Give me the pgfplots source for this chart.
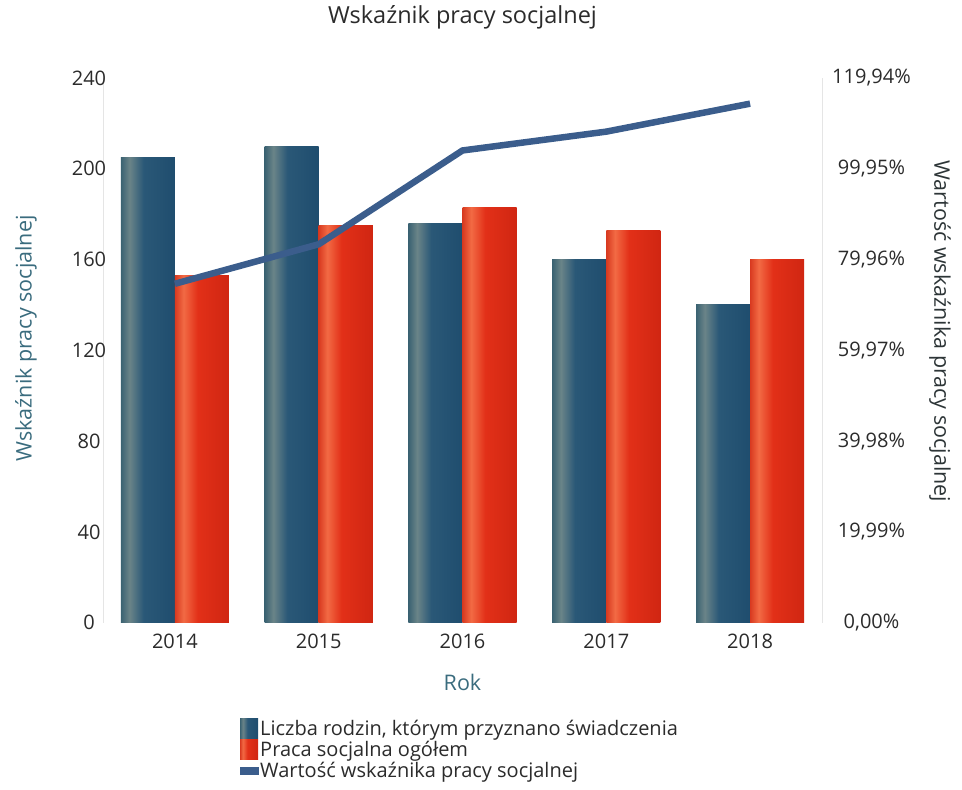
\documentclass[border=0pt]{standalone}
\usepackage{pgfplots}
\pgfplotsset{compat=1.18}
\usepackage{fontspec}
\setmainfont{Open Sans}
\usetikzlibrary{calc}
\definecolor{bA}{HTML}{3A6272}
\definecolor{bB}{HTML}{6A8488}
\definecolor{bC}{HTML}{2A5877}
\definecolor{bD}{HTML}{1F4D6E}
\definecolor{rA}{HTML}{D83A20}
\definecolor{rB}{HTML}{F26A44}
\definecolor{rC}{HTML}{E23018}
\definecolor{rD}{HTML}{D02612}
\definecolor{lineblue}{HTML}{3B5D8C}
\definecolor{labteal}{HTML}{3A6C7E}
\definecolor{ticktxt}{HTML}{2B2B2B}
\pgfdeclarehorizontalshading{bluebar}{100bp}{color(0bp)=(bA); color(25bp)=(bA); color(33bp)=(bB); color(46bp)=(bC); color(75bp)=(bD); color(100bp)=(bD)}
\pgfdeclarehorizontalshading{redbar}{100bp}{color(0bp)=(rA); color(25bp)=(rA); color(33bp)=(rB); color(46bp)=(rC); color(75bp)=(rD); color(100bp)=(rD)}
\pgfplotsset{
  bluebars/.style={ybar, bar shift=-0.188, draw=none, shade, shading=bluebar},
  redbars/.style={ybar, bar shift=0.188, draw=none, shade, shading=redbar},
}
\begin{document}
\begin{tikzpicture}
\begin{axis}[
  name=ax,
  scale only axis, width=719pt, height=544.7pt,
  xmin=-0.5, xmax=4.5, ymin=0, ymax=240,
  bar width=0.376,
  xtick={0,1,2,3,4}, xticklabels={2014,2015,2016,2017,2018},
  ytick={0,40,80,120,160,200,240}, yticklabels={0,40,80,120,160,200,240},
  axis y line*=left, axis x line*=bottom,
  x axis line style={draw=none},
  y axis line style={draw=black!10},
  major tick length=0pt, tick style={draw=none},
  tick label style={font=\fontsize{20}{24}\selectfont, text=ticktxt},
  yticklabel style={anchor=center, xshift=-14pt},
  xticklabel style={anchor=center, yshift=-19pt},
  title={Wskaźnik pracy socjalnej},
  title style={at={(axis description cs:0.5,1)}, anchor=center, yshift=55pt, font=\fontsize{23.5}{28}\selectfont, text=ticktxt},
  xlabel={Rok},
  xlabel style={at={(axis description cs:0.5,-0.110)}, anchor=center, font=\fontsize{21.5}{26}\selectfont, text=labteal},
  ylabel={Wskaźnik pracy socjalnej},
  ylabel style={at={(axis description cs:-0.107,0.522)}, anchor=center, rotate=0, font=\fontsize{21.5}{26}\selectfont, text=labteal},
  legend style={at={(axis description cs:0.19,-0.174)}, anchor=north west, draw=none, fill=none, inner sep=0pt, font=\fontsize{20}{23}\selectfont, text=ticktxt, row sep=0.5pt, /tikz/every even column/.append style={column sep=4pt}},
  legend cell align=left,
]
\addplot[bluebars, legend image code/.code={\path[shade, shading=bluebar] (0pt,-10pt) rectangle (18pt,10pt);}]
  coordinates {(0,205)};
\addlegendentry{Liczba rodzin, którym przyznano świadczenia}
\addplot[redbars, legend image code/.code={\path[shade, shading=redbar] (0pt,-10pt) rectangle (18pt,10pt);}]
  coordinates {(0,153)};
\addlegendentry{Praca socjalna ogółem}
\addlegendimage{legend image code/.code={\fill[lineblue] (0pt,-3pt) rectangle (18pt,4pt);}}
\addlegendentry{Wartość wskaźnika pracy socjalnej}
\addplot[bluebars, forget plot] coordinates {(1,210)};
\addplot[bluebars, forget plot] coordinates {(2,176)};
\addplot[bluebars, forget plot] coordinates {(3,160)};
\addplot[bluebars, forget plot] coordinates {(4,140)};
\addplot[redbars, forget plot] coordinates {(1,175)};
\addplot[redbars, forget plot] coordinates {(2,183)};
\addplot[redbars, forget plot] coordinates {(3,173)};
\addplot[redbars, forget plot] coordinates {(4,160)};
\coordinate (SW) at (rel axis cs:0,0);
\coordinate (NE) at (rel axis cs:1,1);
\end{axis}
\begin{axis}[
  scale only axis, width=719pt, height=544.7pt,
  xmin=-0.5, xmax=4.5, ymin=0, ymax=119.94,
  axis y line*=right, axis x line=none,
  y axis line style={draw=black!10},
  major tick length=0pt, tick style={draw=none},
  ytick={0,19.99,39.98,59.97,79.96,99.95,119.94},
  yticklabels={{0,00\%},{19,99\%},{39,98\%},{59,97\%},{79,96\%},{99,95\%},{119,94\%}},
  tick label style={font=\fontsize{20}{24}\selectfont, text=ticktxt},
  yticklabel style={anchor=center, xshift=49.5pt},
  ylabel={Wartość wskaźnika pracy socjalnej},
  ylabel style={at={(axis description cs:1.164,0.535)}, anchor=center, rotate=180, font=\fontsize{21.5}{26}\selectfont, text=ticktxt!85!labteal},
]
\addplot[lineblue, line width=6.5pt] coordinates {(0,74.63) (1,83.33) (2,103.98) (3,108.13) (4,114.29)};
\end{axis}
\pgfresetboundingbox
\path[use as bounding box] ($(SW)+(-103pt,-166.3pt)$) rectangle ($(NE)+(140pt,78pt)$);
\end{tikzpicture}
\end{document}
